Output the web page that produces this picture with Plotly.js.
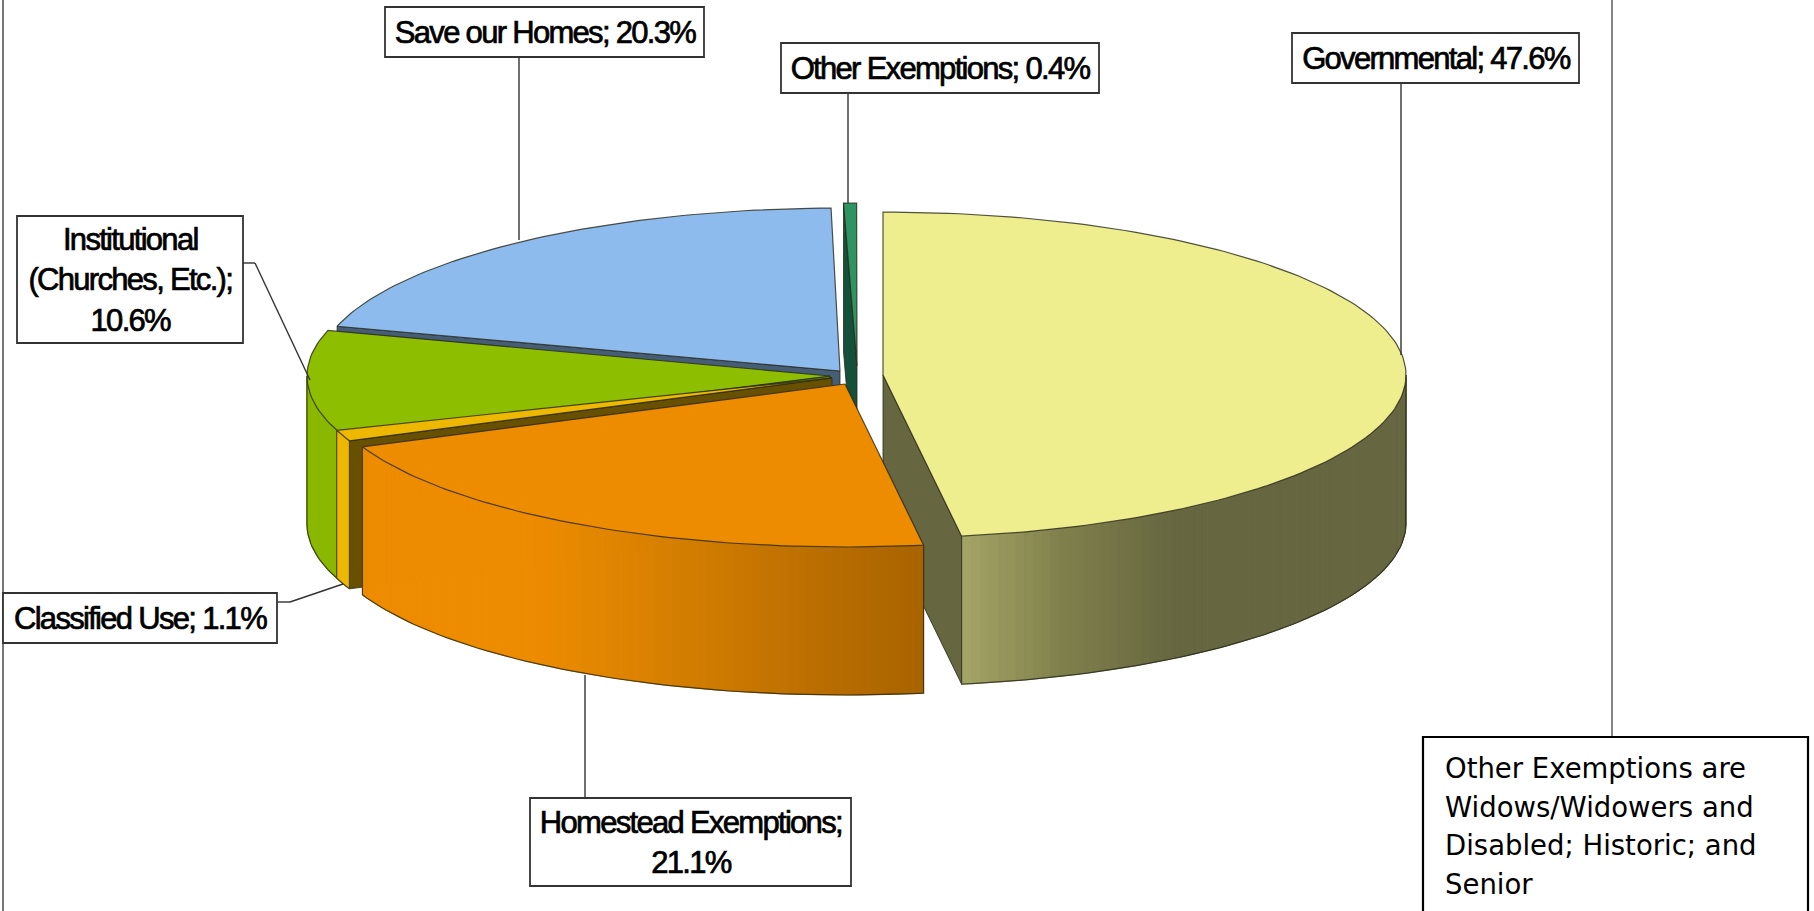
<!DOCTYPE html>
<html><head><meta charset="utf-8">
<script src="https://cdn.plot.ly/plotly-3.0.1.min.js"></script>
<style>
html,body{margin:0;padding:0;background:#fff;overflow:hidden}
#chart{width:1814px;height:911px}
</style></head><body><div id="chart"></div>
<script>
// ---- data ----
const categories = ['Governmental','Homestead Exemptions','Classified Use','Institutional<br>(Churches, Etc.)','Save our Homes','Other Exemptions'];
const values = [47.6,21.1,1.1,10.6,20.3,0.4];
const separators = ['; ',';<br>','; ',';<br>','; ','; '];
const noteLines = ['Other Exemptions are','Widows/Widowers and','Disabled; Historic; and','Senior'];

// ---- styling and pie projection ----
const topColors  = ['#eeee8e','#ee8c00','#eeb700','#8dbe00','#8dbbee','#2e9461'];
const wallColors = ['#666640','#8a5200','#675000','#5c7a00','#455d75','#14503a'];
const sideStops = [
  [[961,[165,165,103]],[1060,[128,128,76]],[1175,[102,102,64]],[1410,[102,102,64]]],
  [[300,[238,140,0]],[530,[238,140,0]],[700,[208,124,0]],[800,[190,112,0]],[925,[168,99,0]]],
  [[300,[238,183,0]],[400,[238,183,0]]],
  [[300,[138,184,0]],[400,[138,184,0]]],
  [[0,[80,120,160]],[1800,[80,120,160]]],
  [[0,[20,80,58]],[1800,[20,80,58]]]
];
const apexX = [883,845,832,830,840,857];
const apexY = [375,384,378,376,371,366];
const angleNudge = [0,0,0,-3.2,-3.5,-4];
const RX = 523, RY = 163, DEPTH = 148, DEG_PER_PCT = 3.6;
const paintOrder = [5,4,3,2,'w0',1,0];
const EDGE = 'rgba(40,40,25,0.8)';

const rad = d => d*Math.PI/180;
const px = (i,a) => apexX[i] + RX*Math.sin(rad(a));
const py = (i,a) => apexY[i] - RY*Math.cos(rad(a));
let cum = 0;
const startAng = [], endAng = [];
values.forEach((v,i)=>{ startAng[i]=cum*DEG_PER_PCT+angleNudge[i]; cum+=v; endAng[i]=cum*DEG_PER_PCT+angleNudge[i]; });
function sideColor(i,x){
  const s = sideStops[i];
  if(x<=s[0][0]) return s[0][1];
  for(let k=1;k<s.length;k++){ if(x<=s[k][0]){
    const t=(x-s[k-1][0])/(s[k][0]-s[k-1][0]);
    return s[k-1][1].map((c,j)=>Math.round(c+(s[k][1][j]-c)*t)); } }
  return s[s.length-1][1];
}
const traces = [];
const poly = (x,y,fill,line,w)=>traces.push({type:'scatter',mode:'lines',x,y,fill:fill?'toself':'none',fillcolor:fill||undefined,
  line:{color:line,width:w},hoverinfo:'skip',showlegend:false});
function arcPts(i,a0,a1,dy){ const n=Math.max(2,Math.ceil(Math.abs(a1-a0)/1.2)); const X=[],Y=[];
  for(let k=0;k<=n;k++){const a=a0+(a1-a0)*k/n; X.push(px(i,a)); Y.push(py(i,a)+dy);} return [X,Y]; }
function drawWall(i,a){
  const ox=px(i,a), oy=py(i,a), ax=apexX[i], ay=apexY[i];
  poly([ax,ox,ox,ax,ax],[ay,oy,oy+DEPTH,ay+DEPTH,ay],wallColors[i],EDGE,1);
}
function drawSide(i){
  const a0=Math.max(startAng[i],90), a1=Math.min(endAng[i],270);
  if(a1<=a0) return;
  const n=Math.ceil((a1-a0)/1);
  for(let k=0;k<n;k++){
    const u=a0+(a1-a0)*k/n, v=a0+(a1-a0)*(k+1)/n;
    const [X,Y]=arcPts(i,u,v,0); const [X2,Y2]=arcPts(i,v,u,DEPTH);
    const c='rgb('+sideColor(i,(px(i,u)+px(i,v))/2).join(',')+')';
    poly(X.concat(X2,[X[0]]),Y.concat(Y2,[Y[0]]),c,c,1);
  }
  const [X,Y]=arcPts(i,a0,a1,DEPTH);
  poly([px(i,a0)].concat(X,[px(i,a1)]),[py(i,a0)].concat(Y,[py(i,a1)]),null,EDGE,1.2);
}
function drawTop(i){
  const [X,Y]=arcPts(i,startAng[i],endAng[i],0);
  poly([apexX[i]].concat(X,[apexX[i]]),[apexY[i]].concat(Y,[apexY[i]]),topColors[i],EDGE,1.2);
}
paintOrder.forEach(p=>{
  if(p==='w0'){ drawWall(0,endAng[0]); return; }
  if(p!==0 && p!==1) drawWall(p,startAng[p]);
  drawSide(p); drawTop(p);
});

// ---- callouts ----
const boxes = [
  {x0:1292,x1:1579,y0:33,y1:83},
  {x0:530,x1:851,y0:798,y1:886},
  {x0:3,x1:277,y0:593,y1:643},
  {x0:17,x1:243,y0:216,y1:343},
  {x0:385,x1:704,y0:7,y1:57},
  {x0:781,x1:1099,y0:43,y1:93}
];
const leaders = [
  [[1401,83],[1401,355]],
  [[585,675],[585,798]],
  [[277,602],[290,602],[343,584]],
  [[243,263],[255,263],[310,380]],
  [[519,57],[519,240]],
  [[848,93],[848,203]]
];
const shapes = [];
const seg=(x0,y0,x1,y1,color,w)=>shapes.push({type:'line',xref:'x',yref:'y',x0,y0,x1,y1,line:{color,width:w},layer:'above'});
seg(3,0,3,911,'#555',1.6);
seg(1612,0,1612,737,'#666',1.6);
leaders.forEach(l=>{for(let k=0;k<l.length-1;k++)seg(l[k][0],l[k][1],l[k+1][0],l[k+1][1],'#333',1.4);});
boxes.forEach(b=>shapes.push({type:'rect',xref:'x',yref:'y',x0:b.x0,x1:b.x1,y0:b.y0,y1:b.y1,fillcolor:'#fff',line:{color:'#333',width:1.8},layer:'above'}));
shapes.push({type:'rect',xref:'x',yref:'y',x0:1423,x1:1808,y0:737,y1:925,fillcolor:'#fff',line:{color:'#000',width:2.2},layer:'above'});

const annotations = categories.map((c,i)=>({
  xref:'x',yref:'y',x:(boxes[i].x0+boxes[i].x1)/2,y:(boxes[i].y0+boxes[i].y1)/2,
  text:c+separators[i]+values[i].toFixed(1)+'%',showarrow:false,align:'center',
  font:{family:'Liberation Sans, Arial, sans-serif',size:31,color:'#000'},
  xanchor:'center',yanchor:'middle'
}));
noteLines.forEach((t,i)=>annotations.push({xref:'x',yref:'y',x:1443,y:768+i*38.7,text:t,showarrow:false,
  xanchor:'left',yanchor:'middle',align:'left',font:{family:'DejaVu Sans, sans-serif',size:27.5,color:'#000'}}));

Plotly.newPlot('chart',traces,{
  width:1814,height:911,margin:{l:0,r:0,t:0,b:0},paper_bgcolor:'#fff',plot_bgcolor:'#fff',showlegend:false,
  xaxis:{range:[0,1814],visible:false,fixedrange:true},
  yaxis:{range:[911,0],visible:false,fixedrange:true},
  shapes,annotations,hovermode:false
},{displayModeBar:false,staticPlot:true}).then(()=>{
  document.querySelectorAll('.annotation-text').forEach(t=>{
    if((t.style.fontFamily||'').indexOf('Liberation')>=0){
      t.style.letterSpacing='-1.7px';
      t.style.stroke='#000';
      t.style.strokeWidth='0.7px';
    }
  });
});
</script></body></html>
